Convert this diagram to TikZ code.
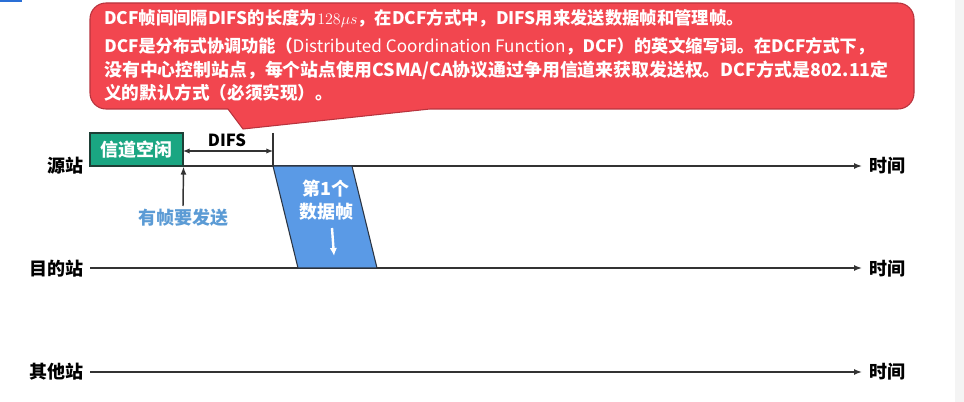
\documentclass[tikz,border=0pt]{standalone}
\usepackage{fontspec}
\setmainfont{Noto Sans CJK SC}
\usetikzlibrary{arrows.meta}
\definecolor{cred}{HTML}{F2464F}
\definecolor{cborder}{HTML}{B8343E}
\definecolor{tealbox}{HTML}{1AA682}
\definecolor{tealborder}{HTML}{1E3F36}
\definecolor{fblue}{HTML}{5A9AE6}
\definecolor{fborder}{HTML}{2B3442}
\definecolor{wantblue}{HTML}{5B9BD5}
\definecolor{axisgray}{HTML}{333333}
\definecolor{stripgray}{HTML}{F4F4F4}
\definecolor{topblue}{HTML}{2A6FD6}
\begin{document}
\begin{tikzpicture}[x=0.75pt,y=-0.75pt,
  axis/.style={line width=1.1pt, draw=axisgray, -{Latex[length=6pt,width=4.5pt]}},
  thin/.style={line width=0.9pt, draw=axisgray},
  lbl/.style={font=\bfseries\fontsize{13.5}{16}\selectfont, text=black, inner sep=0pt},
  ctext/.style={text=white, inner sep=0pt, anchor=west},
  idlebox/.style={draw=tealborder, fill=tealbox, line width=0.8pt, minimum width=69.75pt, minimum height=24.75pt, inner sep=0pt, text=white, font=\bfseries\fontsize{13.5}{16}\selectfont},
  frametext/.style={text=white, font=\bfseries\fontsize{13.5}{17}\selectfont, align=center, inner sep=0pt},
  wanttext/.style={text=wantblue, font=\bfseries\fontsize{13.5}{16}\selectfont, inner sep=0pt}
]
\useasboundingbox (0,0) rectangle (964,402);
\fill[white] (0,0) rectangle (964,402);
\fill[stripgray] (955,0) rectangle (964,402);
\fill[topblue] (0,0) rectangle (22,2.5);

% callout
\draw[fill=cred, draw=cborder, line width=0.8pt, line join=round]
  (228,109) [rounded corners=12pt] -- (90,109) -- (90,3) -- (914,3) -- (914,109) [sharp corners] -- (430,109) -- (243,129) -- cycle;
\node[ctext, font=\bfseries\fontsize{13}{15}\selectfont] (c1) at (104,19) {DCF帧间间隔DIFS的长度为$128\mu s$，在DCF方式中，DIFS用来发送数据帧和管理帧。};
\node[ctext, font=\bfseries\fontsize{12.85}{15}\selectfont] (c2) at (104,46) {DCF是分布式协调功能（{\mdseries Distributed Coordination Function}，DCF）的英文缩写词。在DCF方式下，};
\node[ctext, font=\bfseries\fontsize{13.4}{15}\selectfont] (c3) at (104,70) {没有中心控制站点，每个站点使用CSMA/CA协议通过争用信道来获取发送权。DCF方式是802.11定};
\node[ctext, font=\bfseries\fontsize{13.2}{15}\selectfont] (c4) at (104,93) {义的默认方式（必须实现）。};

% station labels
\node[lbl, anchor=east] (src) at (84,166) {源站};
\node[lbl, anchor=east] (dst) at (84,269) {目的站};
\node[lbl, anchor=east] (oth) at (84,372) {其他站};
\coordinate (s0) at (90,166); \coordinate (s1) at (862,166);
\coordinate (d0) at (90,268); \coordinate (d1) at (862,268);
\coordinate (o0) at (90,372); \coordinate (o1) at (862,372);
\node[lbl, anchor=west] (t1) at (869,166) {时间};
\node[lbl, anchor=west] (t2) at (869,269) {时间};
\node[lbl, anchor=west] (t3) at (869,372) {时间};
\draw[axis] (s0) -- (s1);
\draw[axis] (d0) -- (d1);
\draw[axis] (o0) -- (o1);

% frame (parallelogram)
\coordinate (f1) at (273,166); \coordinate (f2) at (352,166);
\coordinate (f3) at (377,268); \coordinate (f4) at (298,268);
\draw[fill=fblue, draw=fborder, line width=0.8pt, line join=round] (f1) -- (f2) -- (f3) -- (f4) -- cycle;
\node[frametext] (ftxt) at (326,200) {第1个\\数据帧};
\coordinate (fa0) at (332,228); \coordinate (fa1) at (334,256);
\draw[white, line width=1.8pt, -{Latex[length=6pt,width=5.5pt]}] (fa0) -- (fa1);

% idle box
\node[idlebox] (idle) at (136.5,149.5) {信道空闲};

% DIFS
\coordinate (v0) at (273,133); \coordinate (v1) at (273,166);
\draw[thin] (v0) -- (v1);
\coordinate (da) at (183,151); \coordinate (db) at (273,151);
\draw[thin, {Latex[length=5pt,width=4pt]}-{Latex[length=5pt,width=4pt]}] (da) -- (db);
\node[lbl, font=\bfseries\fontsize{12.5}{15}\selectfont] (difs) at (227,140) {DIFS};

% want-to-send
\node[wanttext] (want) at (183,218) {有帧要发送};
\draw[line width=1.1pt, draw=axisgray, -{Latex[length=6pt,width=4.5pt]}] (183,206) -- (idle.south east);
\end{tikzpicture}
\end{document}
